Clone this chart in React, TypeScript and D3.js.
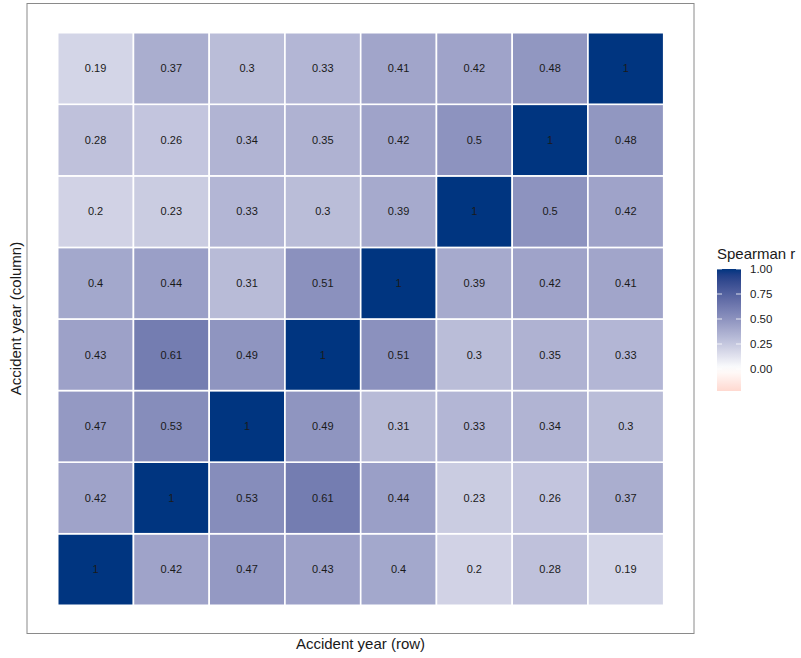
import React from "react";
import * as d3 from "d3";

// rows listed from bottom (year 1) to top (year 8); columns left to right
const row1 = [1, 0.42, 0.47, 0.43, 0.4, 0.2, 0.28, 0.19];
const row2 = [0.42, 1, 0.53, 0.61, 0.44, 0.23, 0.26, 0.37];
const row3 = [0.47, 0.53, 1, 0.49, 0.31, 0.33, 0.34, 0.3];
const row4 = [0.43, 0.61, 0.49, 1, 0.51, 0.3, 0.35, 0.33];
const row5 = [0.4, 0.44, 0.31, 0.51, 1, 0.39, 0.42, 0.41];
const row6 = [0.2, 0.23, 0.33, 0.3, 0.39, 1, 0.5, 0.42];
const row7 = [0.28, 0.26, 0.34, 0.35, 0.42, 0.5, 1, 0.48];
const row8 = [0.19, 0.37, 0.3, 0.33, 0.41, 0.42, 0.48, 1];
const rows = [row1, row2, row3, row4, row5, row6, row7, row8];
const years = [1, 2, 3, 4, 5, 6, 7, 8];
const legendTicks = [0, 0.25, 0.5, 0.75, 1];
const legendLimits = [-0.22, 1];

const LOW = "#e8463a";
const MID = "#ffffff";
const HIGH = "#003580";

function colorOf(v: number): string {
  if (v >= 0) return d3.interpolateLab(MID, HIGH)(Math.min(1, v));
  return d3.interpolateLab(MID, LOW)(Math.min(1, -v));
}

const FONT = "'Liberation Sans', Arial, sans-serif";

export default function App() {
  const W = 801, H = 658;
  const panel = { x0: 27, x1: 694, y0: 3.5, y1: 633.5 };
  const x = d3.scaleBand<number>().domain(years).range([57.7, 663.7]).padding(0);
  const y = d3.scaleBand<number>().domain(years).range([605.3, 32.7]).padding(0);
  // note reversed y: year 1 at bottom
  const yPos = (yr: number) => y(yr)! - y.bandwidth();
  const ly = d3.scaleLinear().domain(legendLimits).range([391, 269]);
  const gradStops = d3.range(0, 1.0001, 0.05).map((t) => {
    const v = legendLimits[0] + t * (legendLimits[1] - legendLimits[0]);
    return { t, c: colorOf(v) };
  });
  const barX = 717, barW = 24;

  return (
    <svg width={W} height={H} style={{ position: "absolute", left: 0, top: 0, background: "#fff" }}>
      <defs>
        <linearGradient id="lg" x1="0" y1="1" x2="0" y2="0">
          {gradStops.map((s, i) => (
            <stop key={i} offset={s.t} stopColor={s.c} />
          ))}
        </linearGradient>
      </defs>
      <rect x={0} y={0} width={W} height={H} fill="#fff" />
      <rect x={panel.x0} y={panel.y0} width={panel.x1 - panel.x0} height={panel.y1 - panel.y0}
        fill="none" stroke="#8a8a8a" strokeWidth={1} />
      {rows.map((r, ri) =>
        r.map((v, ci) => {
          const yr = years[ri];
          const xr = years[ci];
          const yy = y(yr)!;
          return (
            <g key={`${ri}-${ci}`}>
              <rect x={x(xr)!} y={yy} width={x.bandwidth()} height={y.bandwidth()}
                fill={colorOf(v)} stroke="#ffffff" strokeWidth={1.6} />
              <text x={x(xr)! + x.bandwidth() / 2} y={yy + y.bandwidth() / 2} dy="0.35em"
                textAnchor="middle" fontFamily={FONT} fontSize={11} fill="#1a1a1a">
                {String(v)}
              </text>
            </g>
          );
        })
      )}
      <text x={(panel.x0 + panel.x1) / 2} y={649} textAnchor="middle" fontFamily={FONT}
        fontSize={15} fill="#1a1a1a">Accident year (row)</text>
      <text transform={`translate(21,${(panel.y0 + panel.y1) / 2}) rotate(-90)`} textAnchor="middle"
        fontFamily={FONT} fontSize={15} fill="#1a1a1a">Accident year (column)</text>
      <text x={717} y={259} fontFamily={FONT} fontSize={15} fill="#1a1a1a">Spearman r</text>
      <rect x={barX} y={ly(legendLimits[1])} width={barW} height={ly(legendLimits[0]) - ly(legendLimits[1])}
        fill="url(#lg)" />
      {legendTicks.map((t) => (
        <g key={t}>
          <line x1={barX} x2={barX + 5} y1={ly(t)} y2={ly(t)} stroke="#fff" strokeWidth={0.8} />
          <line x1={barX + barW - 5} x2={barX + barW} y1={ly(t)} y2={ly(t)} stroke="#fff" strokeWidth={0.8} />
          <text x={750} y={ly(t)} dy="0.35em" fontFamily={FONT} fontSize={11.5} fill="#1a1a1a">
            {t.toFixed(2)}
          </text>
        </g>
      ))}
    </svg>
  );
}
